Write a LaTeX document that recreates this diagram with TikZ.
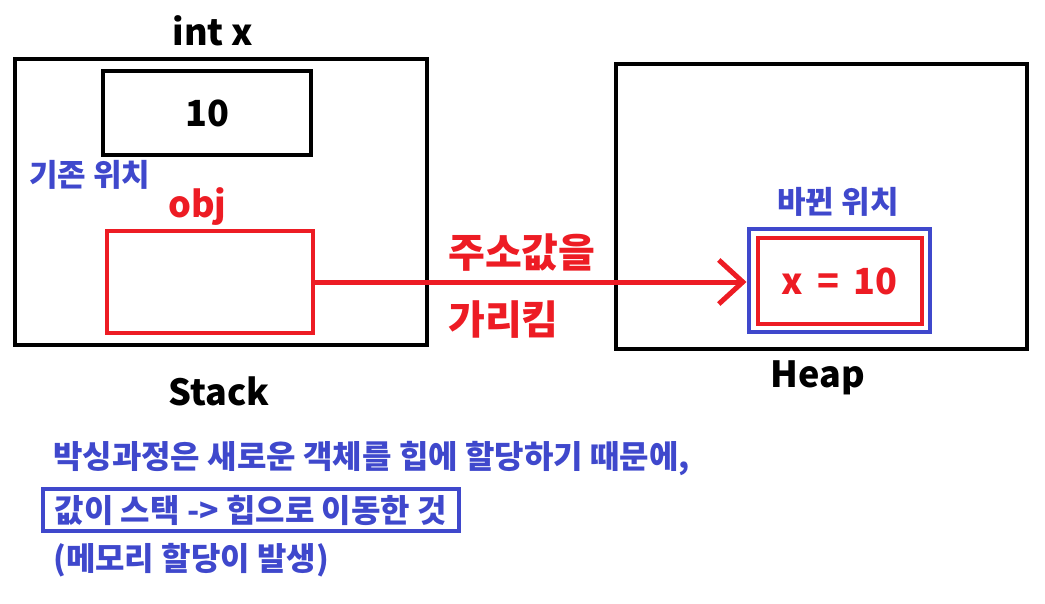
\documentclass[tikz,border=0pt]{standalone}
\usepackage{fontspec}
\setmainfont{Noto Sans CJK KR}
\usetikzlibrary{arrows.meta, positioning}
\definecolor{pred}{HTML}{ED1C24}
\definecolor{pblue}{HTML}{3F48CC}

\begin{document}
\begin{tikzpicture}[
    x=1pt, y=-1pt,
    frame/.style={draw, line width=4pt, inner sep=0pt},
    big/.style={font=\fontsize{36}{40}\selectfont\bfseries, inner sep=0pt},
    note/.style={font=\fontsize{31}{35}\selectfont\bfseries, inner sep=0pt, text=pblue},
    tag/.style={font=\fontsize{40}{44}\selectfont\bfseries, inner sep=0pt, text=pred, anchor=base west},
    line/.style={font=\fontsize{32}{36}\selectfont\bfseries, inner sep=0pt, text=pblue, anchor=base west},
    >=Stealth
  ]
  \useasboundingbox (0,0) rectangle (1045,603);

  % Stack
  \node[frame, minimum width=412pt, minimum height=286.5pt] (stack) at (220.5, 202) {};
  \node[frame, minimum width=208pt, minimum height=83.5pt, big] (val) at (207, 113) {10};
  \node[frame, draw=pred, minimum width=206pt, minimum height=102.5pt] (ptr) at (209.5, 282) {};
  \node[big, anchor=base] (intx) at (213, 45) {int x};
  \node[note, anchor=base west] (old) at (29, 186) {기존 위치};
  \node[big, anchor=base, text=pred] (obj) at (197.5, 217) {obj};
  \node[big, anchor=base] (stacklbl) at (219, 405) {Stack};

  % Heap
  \node[frame, minimum width=411pt, minimum height=285pt] (heap) at (821, 206.5) {};
  \node[frame, draw=pblue, minimum width=181pt, minimum height=103pt] (boxed) at (839, 280.5) {};
  \node[frame, draw=pred, minimum width=163.5pt, minimum height=86.5pt, big, text=pred] (xval) at (839.75, 281) {x \,=\, 10};
  \node[note, anchor=base] (new) at (838, 213) {바뀐 위치};
  \node[big, anchor=base] (heaplbl) at (817.5, 387) {Heap};

  % Reference arrow
  \draw[-{Straight Barb[length=24pt, width=44pt]}, line width=5pt, pred]
    (ptr.east) -- (ptr.east -| boxed.west);
  \node[tag] (addr) at (448, 267) {주소값을};
  \node[tag] (points) at (448, 334) {가리킴};

  % Explanation
  \node[line] (l1) at (53, 468) {박싱과정은 새로운 객체를 힙에 할당하기 때문에,};
  \node[frame, draw=pblue, minimum width=416.5pt, minimum height=42pt,
        font=\fontsize{32}{36}\selectfont\bfseries, text=pblue] (l2) at (250.75, 510) {값이 스택 -> 힙으로 이동한 것};
  \node[line] (l3) at (53, 570) {(메모리 할당이 발생)};

\end{tikzpicture}
\end{document}
